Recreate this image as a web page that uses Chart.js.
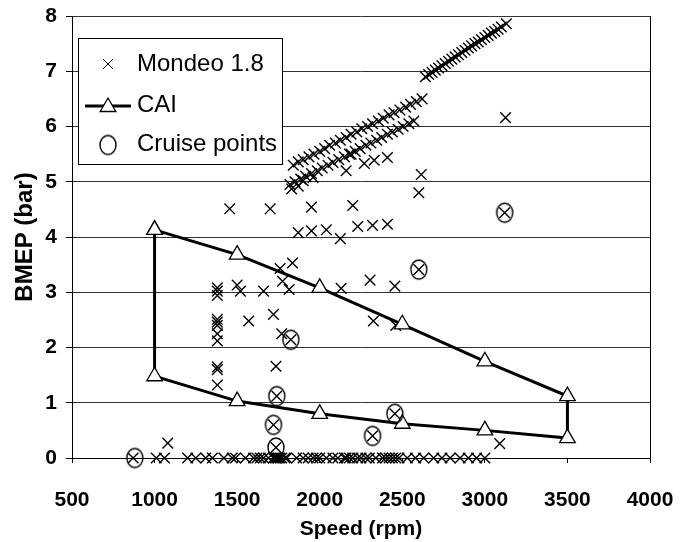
<!DOCTYPE html>
<html>
<head>
<meta charset="utf-8">
<title>BMEP vs Speed</title>
<script src="https://cdn.jsdelivr.net/npm/chart.js@4.4.0/dist/chart.umd.min.js"></script>
<style>
  html, body { margin: 0; padding: 0; background: #fff; }
</style>
</head>
<body>
<canvas id="myChart" width="688" height="542"></canvas>
<script>
// 軸の目盛り
const xTicks = [500, 1000, 1500, 2000, 2500, 3000, 3500, 4000]
const yTicks = [0, 1, 2, 3, 4, 5, 6, 7, 8]

// Mondeo 1.8 の運転点 (rpm / bar)
const mondeoRpm = [
  // 0 bar の列
  870, 1010, 1060, 1200, 1250, 1310, 1350, 1420, 1470, 1490, 1550, 1600, 1620, 1640, 1660,
  1690, 1720, 1730, 1740, 1750, 1760, 1770, 1790, 1800, 1860, 1900, 1930, 1960, 1980, 2000,
  2040, 2080, 2110, 2150, 2160, 2180, 2200, 2230, 2250, 2280, 2300, 2340, 2380, 2400, 2420,
  2440, 2460, 2480, 2530, 2580, 2630, 2690, 2740, 2790, 2850, 2900, 2950, 3000,
  1080, 3090,
  // 中負荷
  1380, 1380, 1380, 1380, 1380, 1380, 1380, 1380, 1380, 1380, 1380,
  1455, 1700, 1950, 2200, 1870, 1950, 2040, 2125, 2230, 2320, 2410,
  1500, 1520, 1660, 1760, 1835, 1775, 1815, 2130, 2305, 2455,
  1570, 1720, 1770, 1825, 1735, 1740, 1720, 1735, 2320, 2455, 2325, 2460,
  2600, 3120, 2600, 2615, 3125,
  // 高負荷 (下側の列)
  1820, 1850, 1885, 1915, 1950, 1985, 2015, 2050, 2080, 2115, 2150, 2180, 2215, 2245, 2280,
  2310, 2345, 2375, 2410, 2440, 2475, 2505, 2540, 2570,
  // 高負荷 (上側の列)
  1840, 1870, 1900, 1935, 1965, 2000, 2030, 2060, 2095, 2125, 2160, 2190, 2225, 2255, 2290,
  2320, 2355, 2385, 2420, 2450, 2485, 2520, 2550, 2585, 2620,
  // 高負荷 (列の下にばらつく点)
  1830, 1870, 1900, 1960, 2160, 2190, 2270, 2330, 2410,
  // 全負荷
  2640, 2660, 2680, 2700, 2720, 2740, 2760, 2780, 2800, 2820, 2840, 2860, 2880, 2900, 2920,
  2940, 2960, 2980, 3000, 3020, 3040, 3060, 3080, 3100, 3130,
]
const mondeoBmep = [
  0, 0, 0, 0, 0, 0, 0, 0, 0, 0, 0, 0, 0, 0, 0,
  0, 0, 0, 0, 0, 0, 0, 0, 0, 0, 0, 0, 0, 0, 0,
  0, 0, 0, 0, 0, 0, 0, 0, 0, 0, 0, 0, 0, 0, 0,
  0, 0, 0, 0, 0, 0, 0, 0, 0, 0, 0, 0, 0,
  0.27, 0.26,
  3.08, 3.02, 2.94, 2.51, 2.46, 2.40, 2.25, 2.12, 1.65, 1.60, 1.32,
  4.51, 4.51, 4.54, 4.57, 4.08, 4.11, 4.13, 3.97, 4.19, 4.21, 4.23,
  3.13, 3.02, 3.02, 3.43, 3.53, 3.20, 3.05, 3.07, 3.22, 3.11,
  2.48, 2.60, 2.25, 2.14, 1.66, 1.12, 0.60, 0.19, 0.40, 0.80, 2.48, 2.40,
  3.41, 4.44, 4.80, 5.13, 6.16,
  4.95, 5.00, 5.05, 5.10, 5.15, 5.20, 5.25, 5.30, 5.35, 5.40, 5.45, 5.50, 5.55, 5.60, 5.66,
  5.70, 5.75, 5.80, 5.86, 5.90, 5.95, 6.00, 6.05, 6.10,
  5.30, 5.36, 5.40, 5.45, 5.50, 5.55, 5.60, 5.66, 5.70, 5.75, 5.80, 5.86, 5.90, 5.96, 6.00,
  6.05, 6.10, 6.15, 6.21, 6.25, 6.30, 6.35, 6.40, 6.45, 6.50,
  4.87, 4.92, 5.02, 5.08, 5.20, 5.50, 5.33, 5.39, 5.44,
  6.90, 6.94, 6.98, 7.02, 7.06, 7.10, 7.14, 7.18, 7.22, 7.26, 7.30, 7.34, 7.38, 7.42, 7.46,
  7.50, 7.53, 7.57, 7.61, 7.65, 7.69, 7.72, 7.76, 7.80, 7.86,
]

// CAI 運転範囲 (上限 → 下限 → 上限に戻る)
const caiRpm = [1000, 1500, 2000, 2500, 3000, 3500, 3500, 3000, 2500, 2000, 1500, 1000, 1000]
const caiBmep = [4.13, 3.68, 3.08, 2.42, 1.75, 1.12, 0.36, 0.5, 0.62, 0.8, 1.03, 1.48, 4.13]

// クルーズ点
const cruiseRpm = [880, 1735, 1720, 1740, 1825, 2320, 2455, 2600, 3120]
const cruiseBmep = [0, 0.19, 0.6, 1.12, 2.14, 0.4, 0.8, 3.41, 4.44]

const toPoints = (xs, ys) => xs.map((x, i) => ({ x: x, y: ys[i] }))

// 縦長の楕円マーカー
function ellipseMark(w, h) {
  const c = document.createElement("canvas")
  c.width = w + 4
  c.height = h + 4
  const g = c.getContext("2d")
  g.strokeStyle = "#000"
  g.lineWidth = 1.4
  g.beginPath()
  g.ellipse(c.width / 2, c.height / 2, w / 2, h / 2, 0, 0, Math.PI * 2)
  g.stroke()
  return c
}
const cruiseMark = ellipseMark(16, 19)

const fontFamily = "'Liberation Sans', Arial, sans-serif"
const tickFont = { family: fontFamily, size: 21, weight: "bold" }
const legendFont = "24px " + fontFamily

// 枠付きの凡例をプロット内に描く
const boxLegend = {
  id: "boxLegend",
  afterDraw(chart) {
    const c = chart.ctx
    const h = Chart.helpers
    c.save()
    c.fillStyle = "#fff"
    c.fillRect(78.5, 38.5, 204, 126)
    c.strokeStyle = "#000"
    c.lineWidth = 1
    c.strokeRect(78.5, 38.5, 204, 126)

    h.drawPoint(c, { pointStyle: "crossRot", radius: 7, borderWidth: 1, borderColor: "#000" }, 108, 64)

    c.beginPath()
    c.lineWidth = 3
    c.moveTo(85, 106)
    c.lineTo(131, 106)
    c.stroke()
    c.fillStyle = "#fff"
    c.lineWidth = 1.3
    h.drawPoint(c, { pointStyle: "triangle", radius: 9, borderWidth: 1.3, borderColor: "#000", backgroundColor: "#fff" }, 108, 107)

    c.drawImage(cruiseMark, 108 - cruiseMark.width / 2, 145 - cruiseMark.height / 2)

    c.fillStyle = "#000"
    c.font = legendFont
    c.textBaseline = "middle"
    c.fillText("Mondeo 1.8", 137, 64)
    c.fillText("CAI", 137, 105)
    c.fillText("Cruise points", 137, 144)
    c.restore()
  },
}

const ctx = document.getElementById("myChart")

new Chart(ctx, {
  type: "scatter",
  data: {
    datasets: [
      {
        label: "Mondeo 1.8",
        data: toPoints(mondeoRpm, mondeoBmep),
        pointStyle: "crossRot",
        radius: 7.5,
        borderWidth: 1.4,
        borderColor: "#000",
        clip: false,
        order: 3,
      },
      {
        label: "CAI",
        data: toPoints(caiRpm, caiBmep),
        showLine: true,
        borderColor: "#000",
        borderWidth: 3,
        pointStyle: "triangle",
        pointRadius: 9,
        pointBorderWidth: 1.3,
        pointBorderColor: "#000",
        pointBackgroundColor: "#fff",
        clip: false,
        order: 2,
      },
      {
        label: "Cruise points",
        data: toPoints(cruiseRpm, cruiseBmep),
        pointStyle: cruiseMark,
        clip: false,
        order: 1,
      },
    ],
  },
  options: {
    responsive: false,
    animation: false,
    layout: { padding: { top: 16, right: 38, bottom: 0, left: 0 } },
    plugins: {
      legend: { display: false },
      tooltip: { enabled: false },
    },
    scales: {
      x: {
        type: "linear",
        min: 500,
        max: 4000,
        afterBuildTicks: (axis) => {
          axis.ticks = xTicks.map((v) => ({ value: v }))
        },
        afterFit: (axis) => {
          axis.height = 84
          axis.paddingLeft = 0
          axis.paddingRight = 0
        },
        ticks: {
          font: tickFont,
          color: "#000",
          padding: 25,
          maxRotation: 0,
          callback: (v) => String(v),
        },
        grid: {
          color: (c) => (c.tick && c.tick.value === 4000 ? "#000" : "rgba(0,0,0,0)"),
          tickColor: "#000",
          tickLength: 5,
        },
        border: { color: "#000", width: 1 },
        title: {
          display: true,
          text: "Speed (rpm)",
          color: "#000",
          font: { family: fontFamily, size: 21, weight: "bold", lineHeight: 1 },
          padding: { top: 0, bottom: 2 },
        },
      },
      y: {
        min: 0,
        max: 8,
        afterBuildTicks: (axis) => {
          axis.ticks = yTicks.map((v) => ({ value: v }))
        },
        afterFit: (axis) => {
          axis.width = 72
          axis.paddingTop = 0
          axis.paddingBottom = 0
        },
        ticks: { font: tickFont, color: "#000", padding: 9 },
        grid: { color: "#333", tickColor: "#000", tickLength: 6 },
        border: { color: "#000", width: 1 },
        title: {
          display: true,
          text: "BMEP (bar)",
          color: "#000",
          font: { family: fontFamily, size: 24, weight: "bold", lineHeight: 1 },
          padding: { top: 13, bottom: 0 },
        },
      },
    },
  },
  plugins: [boxLegend],
})
</script>
</body>
</html>
